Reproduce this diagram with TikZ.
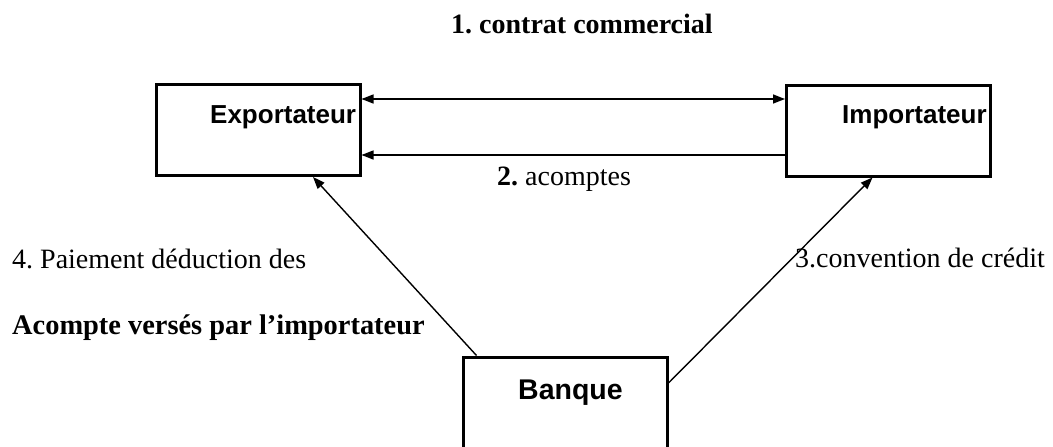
\documentclass[tikz,border=0pt]{standalone}
\usepackage{fontspec}
\setmainfont{Liberation Serif}
\newfontfamily\boxfont{Liberation Sans}
\usetikzlibrary{arrows.meta,positioning,calc}
\frenchspacing

\tikzset{
    actor/.style={draw, line width=3pt, rectangle, minimum width=204pt, minimum height=91pt},
    actorname/.style={inner sep=0pt, font=\boxfont\bfseries\fontsize{26}{30}\selectfont},
    note/.style={inner sep=0pt, anchor=base west, font=\fontsize{28}{32}\selectfont},
    flow/.style={line width=1.4pt, -{Triangle[length=12pt,width=9pt]}},
}

\begin{document}
\begin{tikzpicture}[x=1pt,y=-1pt]
    \useasboundingbox (0,0) rectangle (1053,447);

    % Actors
    \node[actor] (exp) at (258,130) {};
    \node[actor] (imp) at (888.5,130.5) {};
    \node[actor, minimum height=112pt] (ban) at (565,413) {};

    \node[actorname, anchor=base west] (exptxt) at (210,123) {Exportateur};
    \node[actorname, anchor=base west] (imptxt) at (842,123) {Importateur};
    \node[actorname, anchor=base west, font=\boxfont\bfseries\fontsize{28.5}{32}\selectfont] (bantxt) at (518,399) {Banque};

    % Flows between the actors
    \draw[flow, {Triangle[length=12pt,width=9pt]}-{Triangle[length=12pt,width=9pt]}] (exp.east |- 0,99) -- (imp.west |- 0,99);
    \draw[flow] (imp.west |- 0,155) -- (exp.east |- 0,155);
    \draw[flow] ($(ban.north west)+(15,0)$) -- ($(exp.south)+(55,0)$);
    \draw[flow] (ban.east |- 0,383) -- ($(imp.south)+(-16,0)$);

    % Labels
    \node[note, font=\bfseries\fontsize{28}{32}\selectfont] (contrat) at (451,33) {1. contrat commercial};
    \node[note] (acomptes) at (497,185) {\textbf{2.} acomptes};
    \node[note] (credit) at (795,267) {3.convention de cr\'edit};
    \node[note] (paiement) at (12,268) {4. Paiement d\'eduction des};
    \node[note, font=\bfseries\fontsize{28.4}{32}\selectfont] (verses) at (12,334) {Acompte vers\'es par l'importateur};
\end{tikzpicture}
\end{document}
